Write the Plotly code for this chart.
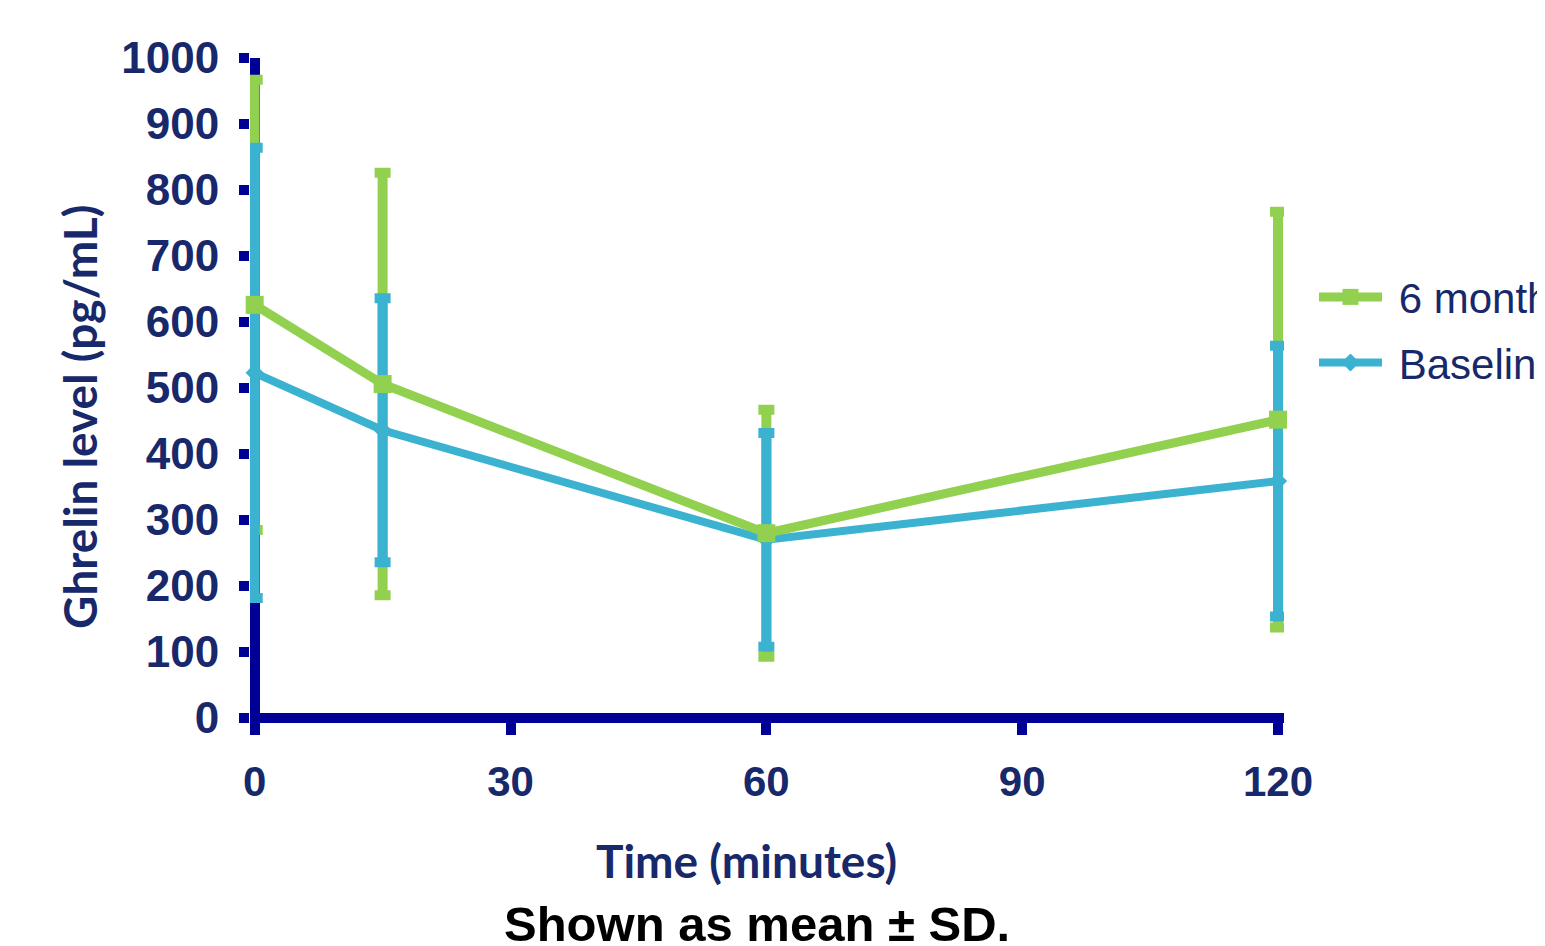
import plotly.graph_objects as go

# ---- data ----
time_min = [0, 15, 60, 120]
six_month_mean = [626, 506, 280, 452]
six_month_sd = [341, 320, 187, 315]
baseline_mean = [523, 436, 270, 359]
baseline_sd = [341, 200, 162, 205]
series_names = ["\u00a06 months", "\u00a0Baseline"]
x_ticks = [0, 30, 60, 90, 120]
y_ticks = [0, 100, 200, 300, 400, 500, 600, 700, 800, 900, 1000]

GREEN = "#92D050"
BLUE = "#3BB2CF"
AXIS = "#000096"
TEXT = "#17286B"
ARIAL = "Liberation Sans, Arial, sans-serif"

fig = go.Figure()

# error bars first (green then blue on top)
for mean, sd, col in [(six_month_mean, six_month_sd, GREEN), (baseline_mean, baseline_sd, BLUE)]:
    fig.add_trace(go.Scatter(
        x=time_min, y=mean, mode="markers", showlegend=False, hoverinfo="skip",
        marker=dict(size=1, opacity=0), cliponaxis=False,
        error_y=dict(type="data", array=sd, visible=True, color=col, thickness=10, width=8),
    ))

# lines: baseline below, 6 months on top
fig.add_trace(go.Scatter(
    x=time_min, y=baseline_mean, mode="lines+markers", name=series_names[1],
    line=dict(color=BLUE, width=8), marker=dict(symbol="diamond", size=14, color=BLUE),
    legendrank=2, legendgroup="b", cliponaxis=False,
))
fig.add_trace(go.Scatter(
    x=time_min, y=six_month_mean, mode="lines+markers", name=series_names[0],
    line=dict(color=GREEN, width=9), marker=dict(symbol="square", size=18, color=GREEN),
    legendrank=1, legendgroup="a", cliponaxis=False,
))

fig.update_layout(
    width=1545, height=946,
    paper_bgcolor="white", plot_bgcolor="white",
    margin=dict(l=242, r=269, t=50, b=234, autoexpand=False),
    font=dict(family=ARIAL, color=TEXT),
    showlegend=True,
    legend=dict(
        x=1.029, y=0.589, xanchor="left", yanchor="middle",
        font=dict(size=42, color=TEXT, family=ARIAL),
        bgcolor="rgba(0,0,0,0)", itemwidth=63, tracegroupgap=8,
    ),
    xaxis=dict(
        range=[-0.55, 120.7], tickvals=x_ticks, ticktext=[str(v) for v in x_ticks],
        showgrid=False, showline=False, linewidth=0,
        zeroline=True, zerolinecolor=AXIS, zerolinewidth=10,
        ticks="outside", ticklen=14, tickwidth=10, tickcolor=AXIS,
        ticklabelstandoff=11,
        tickfont=dict(size=42, family=ARIAL, color=TEXT, weight="bold"),
    ),
    yaxis=dict(
        range=[-3, 1000], tickvals=y_ticks, ticktext=[str(v) for v in y_ticks],
        showgrid=False, showline=False, linewidth=0,
        zeroline=True, zerolinecolor=AXIS, zerolinewidth=10,
        ticks="outside", ticklen=10, tickwidth=10, tickcolor=AXIS,
        ticklabelstandoff=11,
        tickfont=dict(size=44, family=ARIAL, color=TEXT, weight="bold"),
    ),
    annotations=[
        dict(text="<b>Time (minutes)</b>", xref="paper", yref="paper",
             x=0.480, y=-0.2115, xanchor="center", yanchor="middle",
             showarrow=False, font=dict(size=46, color=TEXT, family="Lato, sans-serif")),
        dict(text="<b>Ghrelin level (pg/mL)</b>", xref="paper", yref="paper",
             x=-0.1655, y=0.4577, xanchor="center", yanchor="middle",
             textangle=-90, showarrow=False,
             font=dict(size=46, color=TEXT, family="Lato, sans-serif")),
        dict(text="<b>Shown as mean ± SD.</b>", xref="paper", yref="paper",
             x=0.4908, y=-0.308, xanchor="center", yanchor="middle",
             showarrow=False, font=dict(size=49, color="black", family=ARIAL)),
    ],
)

fig.write_html("out.html")
